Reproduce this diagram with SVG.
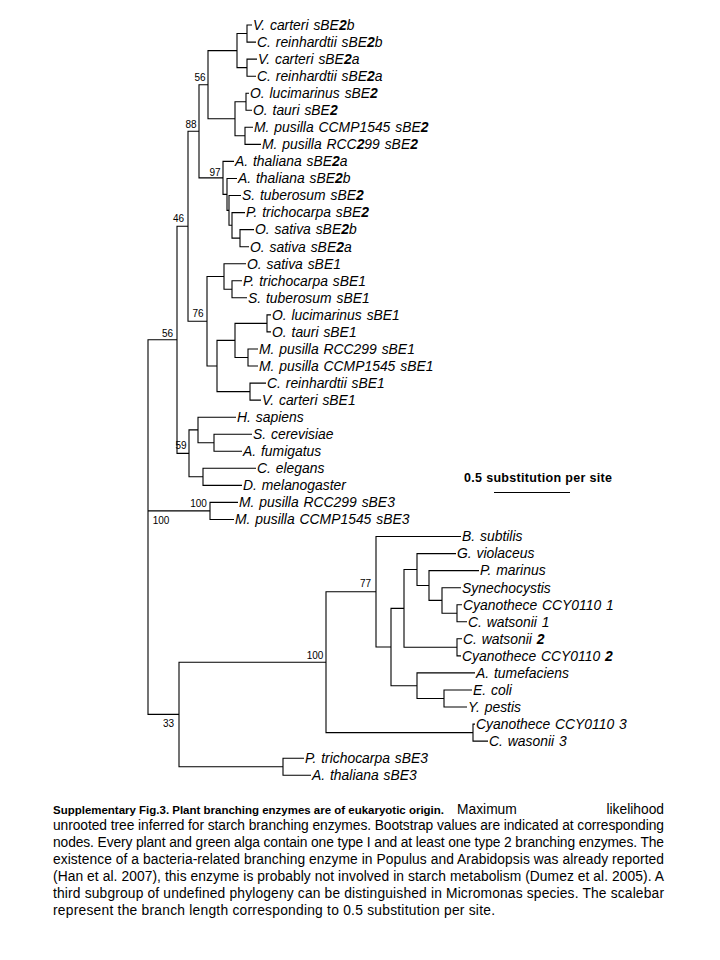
<svg xmlns="http://www.w3.org/2000/svg" width="720" height="960" viewBox="0 0 720 960">
<style>
.b{fill:none;stroke:#000;stroke-width:1.1}
.lf{font-family:"Liberation Sans",Arial,sans-serif;font-style:italic;font-size:13.9px;fill:#000;word-spacing:1px}
.bs{font-family:"Liberation Sans",Arial,sans-serif;font-size:10px;fill:#000;text-anchor:middle}
.cap{font-family:"Liberation Sans",Arial,sans-serif;font-size:13.8px;fill:#000}
.bd{font-weight:bold}
</style>
<rect width="720" height="960" fill="#fff"/>
<g id="connectors" class="b">
<path d="M252 25 H247 V42.1 H256"/>
<path d="M257 59.1 H247 V76.2 H256"/>
<path d="M247 33.5 H237 V67.6 H247"/>
<path d="M249 93.2 H246 V110.3 H252"/>
<path d="M253 127.3 H245 V144.4 H261"/>
<path d="M246 101.7 H235 V135.8 H245"/>
<path d="M237 50.6 H208 V118.8 H235"/>
<path d="M254 229.6 H240 V246.7 H249"/>
<path d="M245 212.6 H232 V238.1 H240"/>
<path d="M241 195.5 H229 V225.3 H232"/>
<path d="M237 178.5 H227 V210.4 H229"/>
<path d="M234 161.4 H223 V194.4 H227"/>
<path d="M208 84.7 H199 V177.9 H223"/>
<path d="M242 280.8 H232 V297.8 H247"/>
<path d="M246 263.7 H224 V289.3 H232"/>
<path d="M271 314.9 H267 V331.9 H271"/>
<path d="M258 349 H248 V366 H258"/>
<path d="M267 323.4 H235 V357.5 H248"/>
<path d="M266 383.1 H250 V400.1 H261"/>
<path d="M235 340.4 H217 V391.6 H250"/>
<path d="M224 276.5 H207 V366 H217"/>
<path d="M199 131.3 H188 V321.3 H207"/>
<path d="M252 434.2 H214 V451.3 H242"/>
<path d="M236 417.2 H198 V442.7 H214"/>
<path d="M256 468.3 H203 V485.4 H242"/>
<path d="M198 429.9 H189 V476.8 H203"/>
<path d="M188 226.3 H177 V453.4 H189"/>
<path d="M238 502.4 H210 V519.5 H234"/>
<path d="M177 339.8 H148 V714.4 H179 M148 510.9 H210"/>
<path d="M462 604.7 H457 V621.8 H467"/>
<path d="M461 587.7 H442 V613.2 H457"/>
<path d="M479 570.6 H429 V600.4 H442"/>
<path d="M456 553.6 H417 V585.5 H429"/>
<path d="M462 638.8 H457 V655.9 H461"/>
<path d="M417 569.5 H404 V647.3 H457"/>
<path d="M472 690 H444 V707 H467"/>
<path d="M475 672.9 H417 V698.5 H444"/>
<path d="M404 608.4 H391 V685.7 H417"/>
<path d="M461 536.5 H376 V647.05 H391"/>
<path d="M475 724.1 H473 V741.1 H488"/>
<path d="M376 591.8 H326 V732.6 H473"/>
<path d="M304 758.2 H283 V775.2 H311"/>
<path d="M326 662.2 H179 V766.7 H283"/>
</g>
<g id="leaves" class="lf">
<g id="leaf1"><text x="253" y="29.8">V. carteri sBE<tspan class="bd">2</tspan>b</text></g>
<g id="leaf2"><text x="257" y="46.9">C. reinhardtii sBE<tspan class="bd">2</tspan>b</text></g>
<g id="leaf3"><text x="258" y="63.9">V. carteri sBE<tspan class="bd">2</tspan>a</text></g>
<g id="leaf4"><text x="257" y="81">C. reinhardtii sBE<tspan class="bd">2</tspan>a</text></g>
<g id="leaf5"><text x="250" y="98">O. lucimarinus sBE<tspan class="bd">2</tspan></text></g>
<g id="leaf6"><text x="253" y="115.1">O. tauri sBE<tspan class="bd">2</tspan></text></g>
<g id="leaf7"><text x="254" y="132.1">M. pusilla CCMP1545 sBE<tspan class="bd">2</tspan></text></g>
<g id="leaf8"><text x="262" y="149.2">M. pusilla RCC<tspan class="bd">2</tspan>99 sBE<tspan class="bd">2</tspan></text></g>
<g id="leaf9"><text x="235" y="166.2">A. thaliana sBE<tspan class="bd">2</tspan>a</text></g>
<g id="leaf10"><text x="238" y="183.3">A. thaliana sBE<tspan class="bd">2</tspan>b</text></g>
<g id="leaf11"><text x="242" y="200.3">S. tuberosum sBE<tspan class="bd">2</tspan></text></g>
<g id="leaf12"><text x="246" y="217.4">P. trichocarpa sBE<tspan class="bd">2</tspan></text></g>
<g id="leaf13"><text x="255" y="234.4">O. sativa sBE<tspan class="bd">2</tspan>b</text></g>
<g id="leaf14"><text x="250" y="251.5">O. sativa sBE<tspan class="bd">2</tspan>a</text></g>
<g id="leaf15"><text x="247" y="268.5">O. sativa sBE1</text></g>
<g id="leaf16"><text x="243" y="285.6">P. trichocarpa sBE1</text></g>
<g id="leaf17"><text x="248" y="302.6">S. tuberosum sBE1</text></g>
<g id="leaf18"><text x="272" y="319.7">O. lucimarinus sBE1</text></g>
<g id="leaf19"><text x="272" y="336.7">O. tauri sBE1</text></g>
<g id="leaf20"><text x="259" y="353.8">M. pusilla RCC299 sBE1</text></g>
<g id="leaf21"><text x="259" y="370.8">M. pusilla CCMP1545 sBE1</text></g>
<g id="leaf22"><text x="267" y="387.9">C. reinhardtii sBE1</text></g>
<g id="leaf23"><text x="262" y="404.9">V. carteri sBE1</text></g>
<g id="leaf24"><text x="237" y="422">H. sapiens</text></g>
<g id="leaf25"><text x="253" y="439">S. cerevisiae</text></g>
<g id="leaf26"><text x="243" y="456.1">A. fumigatus</text></g>
<g id="leaf27"><text x="257" y="473.1">C. elegans</text></g>
<g id="leaf28"><text x="243" y="490.2">D. melanogaster</text></g>
<g id="leaf29"><text x="239" y="507.2">M. pusilla RCC299 sBE3</text></g>
<g id="leaf30"><text x="235" y="524.3">M. pusilla CCMP1545 sBE3</text></g>
<g id="leaf31"><text x="462" y="541.3">B. subtilis</text></g>
<g id="leaf32"><text x="457" y="558.4">G. violaceus</text></g>
<g id="leaf33"><text x="480" y="575.4">P. marinus</text></g>
<g id="leaf34"><text x="462" y="592.5">Synechocystis</text></g>
<g id="leaf35"><text x="463" y="609.5">Cyanothece CCY0110 1</text></g>
<g id="leaf36"><text x="468" y="626.6">C. watsonii 1</text></g>
<g id="leaf37"><text x="463" y="643.6">C. watsonii <tspan class="bd">2</tspan></text></g>
<g id="leaf38"><text x="462" y="660.7">Cyanothece CCY0110 <tspan class="bd">2</tspan></text></g>
<g id="leaf39"><text x="476" y="677.7">A. tumefaciens</text></g>
<g id="leaf40"><text x="473" y="694.8">E. coli</text></g>
<g id="leaf41"><text x="468" y="711.8">Y. pestis</text></g>
<g id="leaf42"><text x="476" y="728.9">Cyanothece CCY0110 3</text></g>
<g id="leaf43"><text x="489" y="745.9">C. wasonii 3</text></g>
<g id="leaf44"><text x="305" y="763">P. trichocarpa sBE3</text></g>
<g id="leaf45"><text x="312" y="780">A. thaliana sBE3</text></g>
</g>
<g id="bootstrap" class="bs">
<text x="200" y="80.6">56</text>
<text x="191" y="127.6">88</text>
<text x="215" y="175.6">97</text>
<text x="178.5" y="221.6">46</text>
<text x="198" y="316.6">76</text>
<text x="167.5" y="336.6">56</text>
<text x="181" y="448.6">59</text>
<text x="198.5" y="506.6">100</text>
<text x="161" y="523.6">100</text>
<text x="365.5" y="586.6">77</text>
<text x="315" y="658.6">100</text>
<text x="168.5" y="726.6">33</text>
</g>
<g id="scalebar">
<text x="464" y="482" font-family="Liberation Sans, Arial, sans-serif" font-size="12.5" font-weight="bold" textLength="148" lengthAdjust="spacing">0.5 substitution  per site</text>
<path d="M494 492.5 H570" class="b"/>
</g>
<g id="caption" class="cap">
<text x="53" y="813.5" class="bd" font-size="11.8" textLength="391" lengthAdjust="spacingAndGlyphs">Supplementary Fig.3. Plant branching enzymes are of eukaryotic origin.</text>
<text x="457" y="813.5">Maximum</text>
<text x="664" y="813.5" text-anchor="end">likelihood</text>
<text x="53" y="830.4" textLength="611" lengthAdjust="spacing">unrooted tree inferred for starch branching enzymes. Bootstrap values are indicated at corresponding</text>
<text x="53" y="847.3" textLength="611" lengthAdjust="spacing">nodes. Every plant and green alga contain one type I and at least one type 2 branching enzymes. The</text>
<text x="53" y="864.2" textLength="611" lengthAdjust="spacing">existence of a bacteria-related branching enzyme in Populus and Arabidopsis was already reported</text>
<text x="53" y="881.1" textLength="611" lengthAdjust="spacing">(Han et al. 2007), this enzyme is probably not involved in starch metabolism (Dumez et al. 2005). A</text>
<text x="53" y="898" textLength="611" lengthAdjust="spacing">third subgroup of undefined phylogeny can be distinguished in Micromonas species. The scalebar</text>
<text x="53" y="915" textLength="442" lengthAdjust="spacing">represent the branch length corresponding to 0.5 substitution per site.</text>
</g>
</svg>
